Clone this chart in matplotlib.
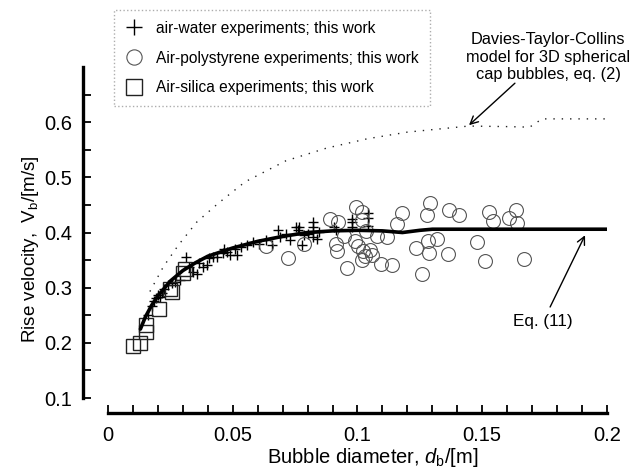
import matplotlib
matplotlib.use("Agg")
import matplotlib.pyplot as plt
from matplotlib.lines import Line2D

plt.rcParams['font.family'] = ['Liberation Sans', 'DejaVu Sans']
plt.rcParams['mathtext.fontset'] = 'custom'
plt.rcParams['mathtext.rm'] = 'Liberation Sans'
plt.rcParams['mathtext.it'] = 'Liberation Sans:italic'

# Air-water experiments (+)
water_d = [0.016, 0.0176, 0.0184, 0.0192, 0.020, 0.0208, 0.0217, 0.0225, 0.024, 0.0257,
           0.027, 0.029, 0.0314, 0.0326, 0.0339, 0.0355, 0.0363, 0.038, 0.0396, 0.0404,
           0.042, 0.0436, 0.046, 0.0466, 0.0477, 0.049, 0.051, 0.0518, 0.0534, 0.0559,
           0.0583, 0.0607, 0.0632, 0.0656, 0.068, 0.0689, 0.0713, 0.073, 0.0754, 0.0762,
           0.0767, 0.0779, 0.0787, 0.0803, 0.0823, 0.0823, 0.0823, 0.0823, 0.0836, 0.0844,
           0.0906, 0.0912, 0.0977, 0.0977, 0.0977, 0.1043, 0.1043, 0.1043]
water_v = [0.250, 0.266, 0.275, 0.281, 0.287, 0.284, 0.290, 0.297, 0.305, 0.308,
           0.311, 0.314, 0.356, 0.338, 0.329, 0.325, 0.344, 0.338, 0.341, 0.353,
           0.356, 0.356, 0.362, 0.371, 0.365, 0.359, 0.371, 0.359, 0.374, 0.377,
           0.383, 0.380, 0.386, 0.377, 0.404, 0.392, 0.398, 0.386, 0.410, 0.404,
           0.410, 0.377, 0.395, 0.398, 0.419, 0.410, 0.401, 0.392, 0.389, 0.401,
           0.410, 0.404, 0.425, 0.419, 0.410, 0.435, 0.426, 0.412]

# Air-polystyrene experiments (o)
poly_d = [0.0720, 0.0635, 0.0785, 0.0890, 0.0922, 0.0912, 0.0916, 0.0957, 0.0993, 0.1017,
          0.1020, 0.0990, 0.1003, 0.1023, 0.1030, 0.1050, 0.1060, 0.1017, 0.1035, 0.1077,
          0.1094, 0.1117, 0.1137, 0.1160, 0.1177, 0.1233, 0.1257, 0.1277, 0.1292, 0.1281,
          0.1286, 0.1318, 0.1362, 0.1366, 0.1405, 0.1480, 0.1510, 0.1528, 0.1544, 0.1606,
          0.1634, 0.1638, 0.1666, 0.0947]
poly_v = [0.354, 0.376, 0.380, 0.425, 0.419, 0.380, 0.367, 0.335, 0.446, 0.437,
          0.422, 0.384, 0.375, 0.366, 0.357, 0.368, 0.360, 0.350, 0.402, 0.393,
          0.343, 0.392, 0.341, 0.415, 0.436, 0.372, 0.325, 0.432, 0.453, 0.385,
          0.363, 0.389, 0.361, 0.440, 0.431, 0.382, 0.348, 0.438, 0.421, 0.426,
          0.441, 0.417, 0.352, 0.393]

# Air-silica experiments (square)
silica_d = [0.0101, 0.0128, 0.0152, 0.0152, 0.0203, 0.0249, 0.0256, 0.0300, 0.0308]
silica_v = [0.195, 0.199, 0.220, 0.232, 0.262, 0.298, 0.292, 0.326, 0.333]

# Eq. (11)
eq11_d = [0.013, 0.015, 0.0175, 0.020, 0.025, 0.030, 0.035, 0.040, 0.050, 0.060,
          0.070, 0.080, 0.090, 0.100, 0.110, 0.118, 0.125, 0.130, 0.150, 0.200]
eq11_v = [0.225, 0.247, 0.268, 0.285, 0.312, 0.331, 0.345, 0.357, 0.372, 0.384,
          0.393, 0.400, 0.403, 0.404, 0.403, 0.400, 0.404, 0.406, 0.406, 0.406]

# Davies-Taylor-Collins model, eq. (2)
dtc_d = [0.0168, 0.0222, 0.0282, 0.0356, 0.0442, 0.055, 0.0713, 0.0876, 0.104, 0.120,
         0.1446, 0.160, 0.169, 0.174, 0.180, 0.200]
dtc_v = [0.293, 0.338, 0.377, 0.419, 0.453, 0.492, 0.530, 0.553, 0.570, 0.582,
         0.593, 0.592, 0.591, 0.606, 0.606, 0.606]

x_ticks = [0, 0.05, 0.1, 0.15, 0.2]
x_ticklabels = ['0', '0.05', '0.1', '0.15', '0.2']
y_ticks = [0.1, 0.2, 0.3, 0.4, 0.5, 0.6]
y_ticklabels = ['0.1', '0.2', '0.3', '0.4', '0.5', '0.6']

fig = plt.figure(figsize=(6.37, 4.74), dpi=100)
ax = fig.add_axes([0.1695, 0.1603, 0.7834, 0.6983])

ax.plot(dtc_d, dtc_v, color='#222222', lw=1.0, linestyle=(0, (1, 5)))
ax.plot(water_d, water_v, linestyle='none', marker='+', ms=7, mew=1.0, color='black')
ax.plot(poly_d, poly_v, linestyle='none', marker='o', ms=10, mfc='none', mec='#555555', mew=0.8)
ax.plot(silica_d, silica_v, linestyle='none', marker='s', ms=10, mfc='none', mec='#222222', mew=1.0)
ax.plot(eq11_d, eq11_v, color='black', lw=2.6, solid_capstyle='round')

ax.set_xlim(0, 0.2)
ax.set_ylim(0.1, 0.7)
ax.set_xticks(x_ticks)
ax.set_xticklabels(x_ticklabels)
ax.set_xticks([i * 0.01 for i in range(21)], minor=True)
ax.set_yticks(y_ticks)
ax.set_yticklabels(y_ticklabels)
ax.set_yticks([0.15, 0.25, 0.35, 0.45, 0.55, 0.65], minor=True)

for s in ['top', 'right']:
    ax.spines[s].set_visible(False)
ax.spines['left'].set_position(('outward', 18))
ax.spines['bottom'].set_position(('outward', 11))
ax.spines['left'].set_linewidth(2.4)
ax.spines['bottom'].set_linewidth(2.4)
ax.tick_params(which='both', direction='in', length=6, width=1.3, color='black')
ax.tick_params(axis='y', which='major', labelsize=14.5, pad=8)
ax.tick_params(axis='x', which='major', labelsize=14.5, pad=9)

ax.set_xlabel(r'Bubble diameter, $\mathit{d}_\mathregular{b}$/[m]', fontsize=14.5, labelpad=2)
ax.xaxis.set_label_coords(0.53, -0.145)
ax.set_ylabel(r'Rise velocity,  $\mathregular{V_b}$/[m/s]', fontsize=13.5, labelpad=8)
ax.yaxis.set_label_coords(-0.135, 0.45)

handles = [
    Line2D([], [], linestyle='none', marker='+', ms=12, mew=1.0, color='black'),
    Line2D([], [], linestyle='none', marker='o', ms=11, mfc='none', mec='#555555', mew=0.8),
    Line2D([], [], linestyle='none', marker='s', ms=11, mfc='none', mec='#222222', mew=1.0),
]
labels = ['air-water experiments; this work',
          'Air-polystyrene experiments; this work',
          'Air-silica experiments; this work']
leg = fig.legend(handles, labels, loc='upper left', bbox_to_anchor=(0.179, 0.979),
                 fontsize=11.2, frameon=True, fancybox=False, borderpad=0.7,
                 labelspacing=0.95, handletextpad=0.8, handlelength=1.2,
                 borderaxespad=0)
leg.get_frame().set_edgecolor('#999999')
leg.get_frame().set_linestyle(':')
leg.get_frame().set_linewidth(1.0)

ax.text(0.1765, 0.718, 'Davies-Taylor-Collins\nmodel for 3D spherical\ncap bubbles, eq. (2)',
        ha='center', va='center', fontsize=11.8, linespacing=1.22, clip_on=False)
ax.annotate('', xy=(0.1447, 0.5946), xytext=(0.1631, 0.6707),
            textcoords='data', annotation_clip=False,
            arrowprops=dict(arrowstyle='->', color='black', lw=1.0,
                            shrinkA=0, shrinkB=0, mutation_scale=14))
ax.text(0.1743, 0.238, 'Eq. (11)', ha='center', va='center', fontsize=12.3)
ax.annotate('', xy=(0.1912, 0.395), xytext=(0.1772, 0.265),
            textcoords='data', annotation_clip=False,
            arrowprops=dict(arrowstyle='->', color='black', lw=1.0,
                            shrinkA=0, shrinkB=0, mutation_scale=14))

fig.savefig('out.png', dpi=100)
